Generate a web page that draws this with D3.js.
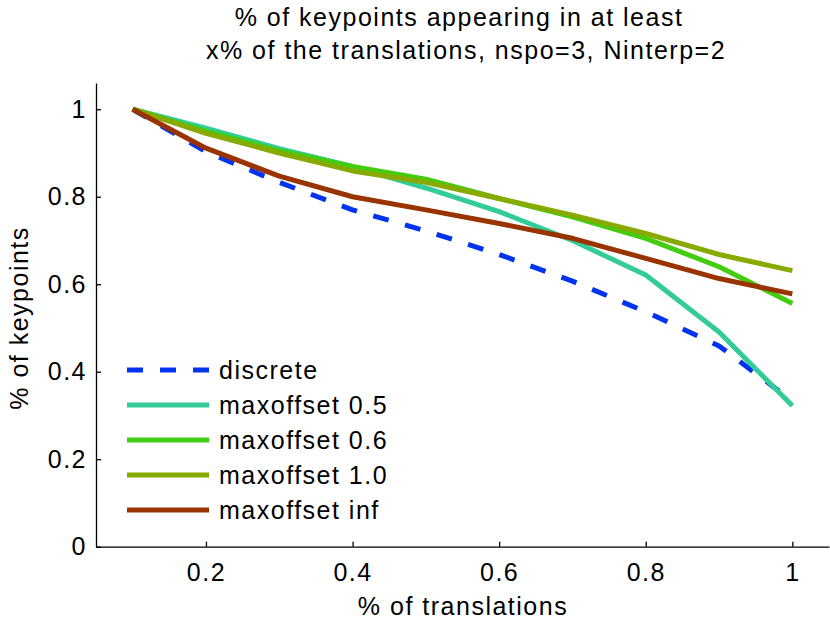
<!DOCTYPE html>
<html>
<head>
<meta charset="utf-8">
<script src="https://cdn.jsdelivr.net/npm/d3@7"></script>
<style>
  body { margin: 0; background: #fff; }
  text { font-family: "Liberation Sans", Arial, sans-serif; fill: #000; letter-spacing: 1.5px; }
</style>
</head>
<body>
<div id="chart_div"></div>
<script>
// data
var xs = [0.1, 0.2, 0.3, 0.4, 0.5, 0.6, 0.7, 0.8, 0.9, 1.0];
var discrete      = [1.0, 0.903, 0.833, 0.770, 0.722, 0.668, 0.607, 0.537, 0.459, 0.333];
var maxoffset05   = [1.0, 0.957, 0.910, 0.869, 0.820, 0.766, 0.700, 0.621, 0.491, 0.322];
var maxoffset06   = [1.0, 0.950, 0.905, 0.869, 0.840, 0.796, 0.754, 0.705, 0.640, 0.556];
var maxoffset10   = [1.0, 0.945, 0.900, 0.859, 0.833, 0.796, 0.758, 0.716, 0.668, 0.631];
var maxoffsetInf  = [1.0, 0.911, 0.847, 0.800, 0.770, 0.739, 0.705, 0.659, 0.613, 0.578];
var seriesNames   = ['discrete', 'maxoffset 0.5', 'maxoffset 0.6', 'maxoffset 1.0', 'maxoffset inf'];
var xTicks = [0.2, 0.4, 0.6, 0.8, 1];
var yTicks = [0, 0.2, 0.4, 0.6, 0.8, 1];

function chart() {
    var W = 830, H = 626;
    var margin = ({ top: 83, right: 1, bottom: 79.3, left: 96 });
    var width = W - margin.left - margin.right;
    var height = H - margin.top - margin.bottom;
    var font_size = '25px';

    var series = [
        { name: seriesNames[0], values: discrete,     color: '#0033ee', dash: '16,17' },
        { name: seriesNames[1], values: maxoffset05,  color: '#33cc99', dash: null },
        { name: seriesNames[2], values: maxoffset06,  color: '#44cc11', dash: null },
        { name: seriesNames[3], values: maxoffset10,  color: '#88aa00', dash: null },
        { name: seriesNames[4], values: maxoffsetInf, color: '#993300', dash: null }
    ];

    var svg = d3.select('#chart_div')
        .append('svg')
        .attr('width', W)
        .attr('height', H);

    var x = d3.scaleLinear().domain([0.05, 1.05]).range([0, width]);
    var y = d3.scaleLinear().domain([0, 1.06]).range([height, 0]);

    var g = svg.append('g')
        .attr('transform', `translate(${margin.left}, ${margin.top})`);

    // axes, ticks pointing inward like matlab
    var xAxis = g.append('g')
        .attr('transform', `translate(0, ${height})`)
        .call(d3.axisBottom(x).tickValues(xTicks).tickSizeInner(-5).tickSizeOuter(0)
            .tickFormat(d3.format('')));
    var yAxis = g.append('g')
        .call(d3.axisLeft(y).tickValues(yTicks).tickSizeInner(-5).tickSizeOuter(0)
            .tickPadding(9).tickFormat(d3.format('')));

    [xAxis, yAxis].forEach(function(a) {
        a.select('.domain').attr('stroke', '#000').attr('stroke-width', 1.3);
        a.selectAll('.tick line').attr('stroke', '#000').attr('stroke-width', 1.3);
        a.selectAll('.tick text')
            .style('font-family', '"Liberation Sans", Arial, sans-serif')
            .style('font-size', font_size)
            .attr('fill', '#000');
    });
    xAxis.selectAll('.tick text').attr('y', 34).attr('dy', 0);

    var line = d3.line()
        .x(function(d, i) { return x(xs[i]); })
        .y(function(d) { return y(d); });

    g.selectAll('path.series')
        .data(series)
        .enter()
        .append('path')
        .attr('class', 'series')
        .attr('d', function(d) { return line(d.values); })
        .attr('fill', 'none')
        .attr('stroke', function(d) { return d.color; })
        .attr('stroke-width', 5)
        .attr('stroke-linejoin', 'round')
        .attr('stroke-dasharray', function(d) { return d.dash; });

    // legend
    var legend = g.append('g')
        .attr('transform', `translate(${127 - margin.left}, ${370 - margin.top})`);
    var items = legend.selectAll('g')
        .data(series)
        .enter()
        .append('g')
        .attr('transform', function(d, i) { return `translate(0, ${i * 35})`; });
    items.append('line')
        .attr('x1', 0).attr('x2', 82)
        .attr('y1', 0).attr('y2', 0)
        .attr('stroke', function(d) { return d.color; })
        .attr('stroke-width', 5)
        .attr('stroke-dasharray', function(d) { return d.dash; });
    items.append('text')
        .attr('x', 92)
        .attr('y', 0)
        .attr('dy', '0.36em')
        .style('font-size', font_size)
        .text(function(d) { return d.name; });

    // title and labels
    var title = svg.append('text')
        .attr('text-anchor', 'middle')
        .style('font-size', font_size);
    title.append('tspan').attr('x', 459).attr('y', 26).text('% of keypoints appearing in at least');
    title.append('tspan').attr('x', 466).attr('y', 59).text('x% of the translations, nspo=3, Ninterp=2');

    svg.append('text')
        .attr('text-anchor', 'middle')
        .attr('x', 463)
        .attr('y', 615)
        .style('font-size', font_size)
        .text('% of translations');

    svg.append('text')
        .attr('text-anchor', 'middle')
        .attr('transform', 'translate(28, 318) rotate(-90)')
        .style('font-size', font_size)
        .text('% of keypoints');
}

chart();
</script>
</body>
</html>
